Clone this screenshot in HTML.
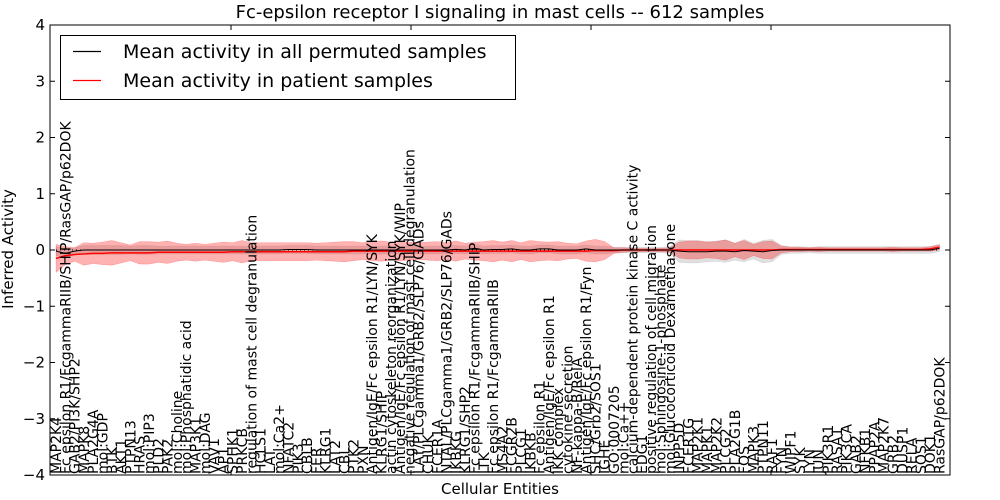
<!DOCTYPE html>
<html><head><meta charset="utf-8"><style>
body{margin:0;background:#fff;}
svg{display:block;font-family:"DejaVu Sans","Liberation Sans",sans-serif;}
</style></head><body>
<svg id="chart" width="1000" height="500" viewBox="0 0 1000 500" xmlns="http://www.w3.org/2000/svg">
<rect x="0" y="0" width="1000" height="500" fill="#fff"/>
<text x="500" y="18" text-anchor="middle" font-size="18">Fc-epsilon receptor I signaling in mast cells -- 612 samples</text>
<g id="plot"></g>
<text x="500" y="494" text-anchor="middle" font-size="15">Cellular Entities</text>
<text transform="translate(13,249) rotate(-90)" text-anchor="middle" font-size="15">Inferred Activity</text>
<g>
<rect x="60.5" y="35.5" width="455" height="64" fill="#fff" stroke="#000" stroke-width="1"/>
<line x1="73" y1="51.5" x2="101" y2="51.5" stroke="#000" stroke-width="1.2"/>
<text x="123" y="58" font-size="19">Mean activity in all permuted samples</text>
<line x1="73" y1="80.5" x2="101" y2="80.5" stroke="#f00" stroke-width="1.2"/>
<text x="123" y="87" font-size="19">Mean activity in patient samples</text>
</g>
</svg>
<script>
const categories = ["MAP2K4","Fc epsilon R1/FcgammaRIIB/SHIP/RasGAP/p62DOK","GAB2/PI3K/SHP2","MAPK8","PLA2G4A","mol:GDP","BTK","AKT1","PTPN13","HRAS","mol:PIP3","PLD2","PAK2","mol:Choline","mol:Phosphatidic acid","MAP3K1","mol:DAG","VAV1","AP1","SPHK1","PRKCB","regulation of mast cell degranulation","HCLS1","LAT","mol:Ca2+","NFATC2","PIK3","CBLB","FER","KLRG1","LAT2","CBL","PTK2","PXN","Antigen/IgE/Fc epsilon R1/LYN/SYK","KLRG1/SHIP","actin cytoskeleton reorganization","Antigen/IgE/Fc epsilon R1/LYN/SYK/WIP","negative regulation of mast cell degranulation","LAT/PLCgamma1/GRB2/SLP76/GADs","CHUK","FCER1A","NTAL/PLCgamma1/GRB2/SLP76/GADs","IKBKG","KLRG1/SHP2","Fc epsilon R1/FcgammaRIIB/SHIP","ITK","Fc epsilon R1/FcgammaRIIB","MS4A2","FCGR2B","PLCG1","IKBKB","Fc epsilon R1","Antigen/IgE/Fc epsilon R1","IKK complex","cytokine secretion","NF-kappa-B/RelA","Antigen/IgE/Fc epsilon R1/Fyn","SHC/Grb2/SOS1","IGHE","GO:0007205","mol:Ca++","calcium-dependent protein kinase C activity","EDG1","positive regulation of cell migration","mol:Sphingosine-1-phosphate","mol:Glucocorticoid Dexamethasone","INPP5D","FCER1G","MAP2K1","MAPK1","MAP2K2","PLCG2","PLA2G1B","FOS","MAPK3","PTPN11","RAF1","FYN","WIPF1","SYK","LYN","JUN","PIK3R1","RASA1","PIK3CA","GAB2","NFKB1","PPAP2A","MAP2K7","GRB2","DUSP1","RELA","SOS1","DOK1","RasGAP/p62DOK"];
const patientMean = [-0.15,-0.1,-0.08,-0.07,-0.06,-0.06,-0.05,-0.05,-0.05,-0.05,-0.05,-0.04,-0.04,-0.04,-0.04,-0.04,-0.04,-0.04,-0.04,-0.03,-0.03,-0.03,-0.03,-0.03,-0.03,-0.03,-0.03,-0.03,-0.03,-0.03,-0.03,-0.03,-0.02,-0.02,-0.02,-0.02,-0.02,-0.02,-0.02,-0.02,-0.02,-0.02,-0.02,-0.02,-0.02,-0.02,-0.02,-0.02,-0.02,-0.02,-0.02,-0.02,-0.02,-0.02,-0.02,-0.02,-0.02,-0.02,-0.01,-0.01,-0.01,0,0,0,0,0,0,0,0,0,0,0,0,0,0,0,0,0,0.01,0.01,0.01,0.01,0.01,0.01,0.01,0.01,0.01,0.01,0.01,0.01,0.01,0.01,0.01,0.01,0.02,0.05];
const patientSpread = [0.25,0.16,0.12,0.2,0.18,0.2,0.22,0.18,0.14,0.2,0.2,0.18,0.2,0.16,0.14,0.16,0.14,0.16,0.18,0.16,0.2,0.16,0.16,0.16,0.16,0.16,0.16,0.16,0.15,0.16,0.17,0.18,0.17,0.15,0.17,0.18,0.16,0.17,0.16,0.15,0.16,0.17,0.15,0.18,0.14,0.16,0.17,0.19,0.16,0.19,0.15,0.19,0.17,0.16,0.17,0.14,0.13,0.18,0.2,0.16,0.05,0.04,0.03,0.03,0.03,0.03,0.04,0.14,0.16,0.16,0.14,0.15,0.18,0.12,0.17,0.1,0.15,0.16,0.06,0.04,0.04,0.03,0.04,0.03,0.03,0.03,0.03,0.03,0.03,0.03,0.04,0.03,0.03,0.03,0.04,0.05];
const permutedMean = [-0.02,-0.06,-0.02,0,0,0,0,0,0,0,0,0,0,0,0,0,0,0,0,0,0,0,0,0,0,0.01,0.01,0.01,0,0,0,0,0,0,0,0,0,0,0,0,0,0,0,0.01,0,0.03,0,0.01,0.01,0.02,0,0,0.02,0.02,0,0,0,0.02,0,0,0,0,0,0,0,0,0,-0.02,-0.03,-0.03,-0.03,-0.02,-0.02,-0.03,-0.01,-0.02,-0.03,-0.01,0,0,0,0,0,0,0,0,0,0,0,0,0,0,0,0,0,0.03];
const permutedSpread = [0.08,0.08,0.06,0.08,0.08,0.08,0.08,0.08,0.07,0.08,0.08,0.07,0.07,0.07,0.07,0.07,0.07,0.07,0.07,0.07,0.07,0.07,0.07,0.07,0.07,0.07,0.07,0.07,0.07,0.07,0.07,0.07,0.07,0.07,0.07,0.07,0.07,0.07,0.07,0.07,0.07,0.07,0.07,0.07,0.07,0.07,0.07,0.07,0.07,0.07,0.07,0.07,0.07,0.07,0.07,0.07,0.07,0.07,0.07,0.07,0.05,0.05,0.05,0.05,0.05,0.05,0.06,0.2,0.2,0.2,0.18,0.18,0.2,0.15,0.2,0.14,0.2,0.2,0.08,0.06,0.06,0.05,0.06,0.06,0.06,0.06,0.06,0.06,0.06,0.06,0.06,0.06,0.06,0.06,0.06,0.06];
const yTicks = [-4,-3,-2,-1,0,1,2,3,4];

const NS = "http://www.w3.org/2000/svg";
const L = 50, R = 950, T = 25, B = 475;
function xScale(i){ return 56 + i * 9.3; }
function yScale(v){ return T + (4 - v) / 8 * (B - T); }
const plot = document.getElementById('plot');
function mk(tag, attrs){ const e = document.createElementNS(NS, tag); for (const k in attrs) e.setAttribute(k, attrs[k]); plot.appendChild(e); return e; }

function band(mean, spread, fill, op, name){
  let d = '';
  mean.forEach((m,i)=>{ d += (i ? 'L' : 'M') + xScale(i) + ',' + yScale(m + spread[i]); });
  for (let i = mean.length - 1; i >= 0; i--) d += 'L' + xScale(i) + ',' + yScale(mean[i] - spread[i]);
  const p = mk('path', {d: d + 'Z', fill: fill, 'fill-opacity': op, stroke: fill, 'stroke-opacity': op, 'stroke-width': 0.5});
  
  
}
function line(mean, color, name, w){
  const d = mean.map((m,i)=> (i ? 'L' : 'M') + xScale(i) + ',' + yScale(m)).join('');
  const p = mk('path', {d: d, fill: 'none', stroke: color, 'stroke-width': w});
  
  
}
band(permutedMean, permutedSpread, '#999', 0.3, 'permuted-band');
band(patientMean, patientSpread, '#f00', 0.3, 'patient-band');
const zl = mk('line', {x1: xScale(0), x2: xScale(categories.length - 1), y1: yScale(0), y2: yScale(0), stroke: '#000', 'stroke-dasharray': '1,3', 'stroke-width': 1});


line(patientMean, '#f00', 'patient-mean-line', 1.5);
line(permutedMean, '#000', 'permuted-mean-line', 1);

categories.forEach((c,i)=>{
  const t = mk('text', {transform: 'translate(' + (xScale(i) + 5) + ',' + (B - 1) + ') rotate(-90)', 'font-size': 14});
  t.textContent = c;
  
  
});

const frame = mk('rect', {x: L, y: T, width: R - L, height: B - T, fill: 'none', stroke: '#000', 'stroke-width': 1});



yTicks.forEach(v=>{
  const y = yScale(v);
  const t1 = mk('line', {x1: L, x2: L + 5, y1: y, y2: y, stroke: '#000'});
  
  
  const t2 = mk('line', {x1: R - 5, x2: R, y1: y, y2: y, stroke: '#000'});
  
  
  const lb = mk('text', {x: L - 5, y: y + 5, 'text-anchor': 'end', 'font-size': 15});
  lb.textContent = v < 0 ? '\u2212' + Math.abs(v) : String(v);
  
  
});
[231, 411, 591, 771].forEach(x=>{
  const a = mk('line', {x1: x, x2: x, y1: T, y2: T + 5, stroke: '#000'});
  
  
  const b = mk('line', {x1: x, x2: x, y1: B - 5, y2: B, stroke: '#000'});
  
  
});
</script>
</body></html>
